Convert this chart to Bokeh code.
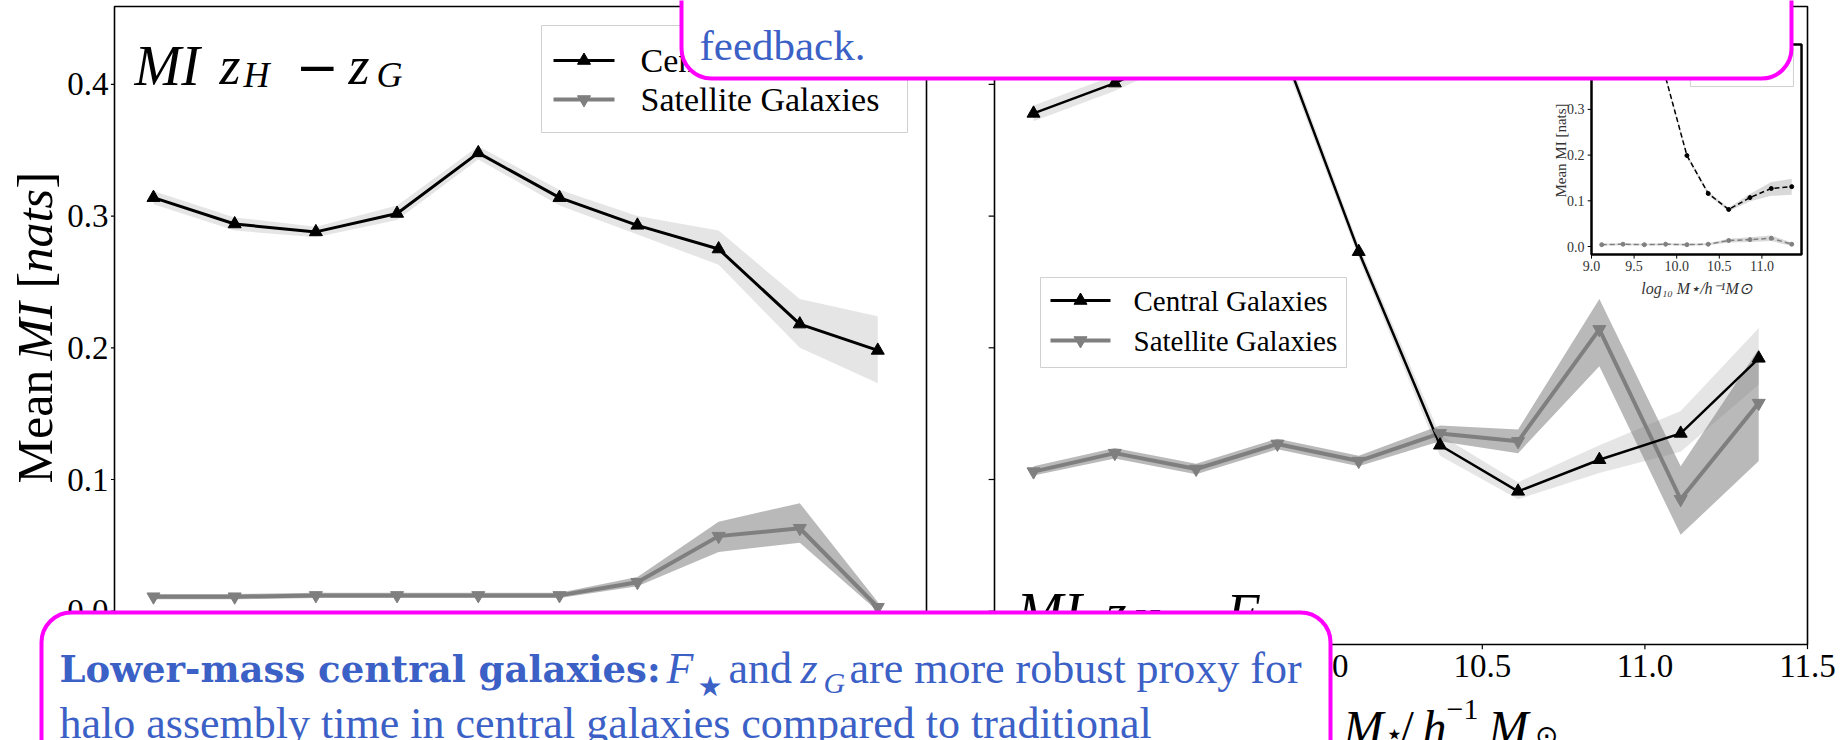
import math
from bokeh.plotting import figure
from bokeh.models import Range1d, BoxAnnotation, Label
from bokeh.core.properties import value
from bokeh.embed import file_html
from bokeh.resources import INLINE

# ---------------- data ----------------
mass_bins = [9.12, 9.37, 9.62, 9.87, 10.12, 10.37, 10.61, 10.86, 11.11, 11.35]

# left panel : MI z_H - z_G
zg_central = [0.314, 0.294, 0.288, 0.302, 0.348, 0.314, 0.293, 0.275, 0.218, 0.198]
zg_central_lo = [0.309, 0.289, 0.284, 0.297, 0.343, 0.308, 0.286, 0.263, 0.200, 0.173]
zg_central_hi = [0.319, 0.299, 0.292, 0.308, 0.353, 0.320, 0.300, 0.289, 0.237, 0.224]
zg_satellite = [0.011, 0.011, 0.012, 0.012, 0.012, 0.012, 0.022, 0.057, 0.063, 0.003]
zg_satellite_lo = [0.009, 0.009, 0.010, 0.010, 0.010, 0.010, 0.019, 0.045, 0.052, 0.000]
zg_satellite_hi = [0.013, 0.013, 0.014, 0.014, 0.014, 0.014, 0.026, 0.068, 0.082, 0.007]

# right panel : MI z_H - F*
fs_central = [0.378, 0.401, 0.430, 0.438, 0.273, 0.126, 0.091, 0.115, 0.135, 0.192]
fs_central_lo = [0.372, 0.395, 0.424, 0.432, 0.268, 0.118, 0.085, 0.105, 0.121, 0.172]
fs_central_hi = [0.384, 0.407, 0.436, 0.444, 0.278, 0.134, 0.098, 0.126, 0.152, 0.215]
fs_satellite = [0.106, 0.120, 0.108, 0.127, 0.114, 0.135, 0.129, 0.214, 0.085, 0.158]
fs_satellite_lo = [0.103, 0.116, 0.104, 0.123, 0.110, 0.129, 0.120, 0.186, 0.058, 0.114]
fs_satellite_hi = [0.110, 0.124, 0.112, 0.131, 0.118, 0.141, 0.138, 0.237, 0.110, 0.199]

# inset
inset_central = [0.470, 0.470, 0.450, 0.370, 0.199, 0.116, 0.081, 0.107, 0.127, 0.131]
inset_central_lo = [0.465, 0.465, 0.445, 0.365, 0.195, 0.112, 0.077, 0.099, 0.111, 0.113]
inset_central_hi = [0.475, 0.475, 0.455, 0.375, 0.203, 0.120, 0.085, 0.115, 0.141, 0.148]
inset_satellite = [0.004, 0.005, 0.004, 0.005, 0.004, 0.005, 0.013, 0.015, 0.018, 0.005]
inset_satellite_lo = [0.002, 0.003, 0.002, 0.003, 0.002, 0.003, 0.009, 0.010, 0.012, 0.001]
inset_satellite_hi = [0.006, 0.007, 0.006, 0.007, 0.006, 0.007, 0.017, 0.020, 0.024, 0.009]

series_labels = ["Central Galaxies", "Satellite Galaxies"]

# axes
panel_xlim = (9.0, 11.5)
panel_ylim = (-0.0253, 0.4591)
y_ticks = [0.0, 0.1, 0.2, 0.3, 0.4]
y_tick_labels = ["0.0", "0.1", "0.2", "0.3", "0.4"]
x_ticks = [9.0, 9.5, 10.0, 10.5, 11.0, 11.5]
x_tick_labels = ["9.0", "9.5", "10.0", "10.5", "11.0", "11.5"]
inset_xlim = (9.0, 11.465)
inset_ylim = (-0.0175, 0.442)
inset_x_ticks = [9.0, 9.5, 10.0, 10.5, 11.0]
inset_x_labels = ["9.0", "9.5", "10.0", "10.5", "11.0"]
inset_y_ticks = [0.0, 0.1, 0.2, 0.3]
inset_y_labels = ["0.0", "0.1", "0.2", "0.3"]
inset_legend_box = (10.16, 11.37, 0.350, 0.433)

# ---------------- layout (image pixels) ----------------
W, H = 1845, 740


def xrange_from(v0, p0, ppu):
    return Range1d(start=v0 + (0 - p0) / ppu, end=v0 + (W - p0) / ppu)


def yrange_from(v0, p0, ppu):
    return Range1d(start=v0 + (p0 - H) / ppu, end=v0 + p0 / ppu)


SERIF = "Liberation Serif"
BLUE = "#3b60c6"
MAGENTA = "#ff00ff"
GREY = "#7f7f7f"

p = figure(width=W, height=H, output_backend="svg", toolbar_location=None,
           x_range=xrange_from(9.0, 114, 324.8), y_range=yrange_from(0.0, 610.7, 1317),
           x_axis_location=None, y_axis_location=None, title=None, min_border=0)
p.extra_x_ranges = {"r": xrange_from(9.0, 994, 325.2),
                    "ix": xrange_from(9.0, 1591, 85.2),
                    "px": Range1d(start=0, end=W)}
p.extra_y_ranges = {"iy": yrange_from(0.0, 246, 457),
                    "py": Range1d(start=H, end=0)}
p.grid.visible = False
p.outline_line_color = None
p.background_fill_color = "white"
p.border_fill_color = "white"

R = dict(x_range_name="r")
PX = dict(x_range_name="px", y_range_name="py")

# ---------------- bands ----------------
p.varea(x=mass_bins, y1=zg_central_lo, y2=zg_central_hi, fill_color="black", fill_alpha=0.1)
p.varea(x=mass_bins, y1=zg_satellite_lo, y2=zg_satellite_hi, fill_color="gray", fill_alpha=0.55)
p.varea(x=mass_bins, y1=fs_central_lo, y2=fs_central_hi, fill_color="black", fill_alpha=0.1, **R)
p.varea(x=mass_bins, y1=fs_satellite_lo, y2=fs_satellite_hi, fill_color="gray", fill_alpha=0.55, **R)

# ---------------- lines & markers ----------------
p.line(mass_bins, zg_central, line_color="black", line_width=3)
p.line(mass_bins, zg_satellite, line_color=GREY, line_width=4)
p.scatter(mass_bins, zg_central, marker="triangle", size=13, color="black")
p.scatter(mass_bins, zg_satellite, marker="inverted_triangle", size=13, color=GREY)

p.line(mass_bins, fs_satellite, line_color=GREY, line_width=4, **R)
p.line(mass_bins, fs_central, line_color="black", line_width=2.5, **R)
p.scatter(mass_bins, fs_satellite, marker="inverted_triangle", size=13, color=GREY, **R)
p.scatter(mass_bins, fs_central, marker="triangle", size=13, color="black", **R)

# ---------------- panel frames, ticks, tick labels ----------------
for extra in ({}, R):
    p.quad(left=[panel_xlim[0]], right=[panel_xlim[1]], bottom=[panel_ylim[0]], top=[panel_ylim[1]],
           fill_color=None, line_color="black", line_width=1.6, **extra)
    p.segment(x0=x_ticks, x1=x_ticks, y0=[panel_ylim[0]] * len(x_ticks),
              y1=[panel_ylim[0] - 0.0035] * len(x_ticks), line_color="black", line_width=1.2, **extra)
p.segment(x0=[panel_xlim[0] - 0.011] * 5, x1=[panel_xlim[0]] * 5, y0=y_ticks, y1=y_ticks,
          line_color="black", line_width=1.2)
p.segment(x0=[panel_xlim[0] - 0.018] * 5, x1=[panel_xlim[0]] * 5, y0=y_ticks, y1=y_ticks,
          line_color="black", line_width=1.2, **R)
p.text(x=[panel_xlim[0]] * 5, y=y_ticks, text=y_tick_labels, x_offset=-6, text_align="right",
       text_baseline="middle", text_font=value(SERIF), text_font_size="33px", text_color="black")
vis = [i for i, t in enumerate(x_ticks) if t >= 10.0]
p.text(x=[x_ticks[i] for i in vis], y=[panel_ylim[0]] * len(vis),
       text=[x_tick_labels[i] for i in vis], y_offset=10, text_align="center",
       text_baseline="top", text_font=value(SERIF), text_font_size="33px",
       text_color="black", **R)

# ---------------- inset ----------------
IR = dict(x_range_name="ix", y_range_name="iy")
p.quad(left=[inset_xlim[0]], right=[inset_xlim[1]], bottom=[inset_ylim[0]], top=[inset_ylim[1]],
       fill_color="white", line_color="black", line_width=2.5, **IR)
p.quad(left=[inset_legend_box[0]], right=[inset_legend_box[1]], bottom=[inset_legend_box[2]],
       top=[inset_legend_box[3]], fill_color="white", line_color="#d0d0d0", line_width=1, **IR)
p.varea(x=mass_bins, y1=inset_central_lo, y2=inset_central_hi, fill_color="gray", fill_alpha=0.3, **IR)
p.varea(x=mass_bins, y1=inset_satellite_lo, y2=inset_satellite_hi, fill_color="gray", fill_alpha=0.3, **IR)
p.line(mass_bins, inset_central, line_color="black", line_width=1.5, line_dash="5 3", **IR)
p.line(mass_bins, inset_satellite, line_color="#808080", line_width=1.5, line_dash="5 3", **IR)
p.scatter(mass_bins, inset_central, size=4, color="black", **IR)
p.scatter(mass_bins, inset_satellite, size=4, color="#808080", **IR)
p.segment(x0=inset_x_ticks, x1=inset_x_ticks, y0=[inset_ylim[0]] * 5, y1=[inset_ylim[0] - 0.009] * 5,
          line_color="black", line_width=1, **IR)
p.segment(x0=[inset_xlim[0] - 0.045] * 4, x1=[inset_xlim[0]] * 4, y0=inset_y_ticks, y1=inset_y_ticks,
          line_color="black", line_width=1, **IR)
p.text(x=inset_x_ticks, y=[inset_ylim[0]] * 5, text=inset_x_labels, text_align="center",
       text_baseline="top", y_offset=7, text_font=value(SERIF), text_font_size="14px",
       text_color="#333333", **IR)
p.text(x=[inset_xlim[0]] * 4, y=inset_y_ticks, text=inset_y_labels, text_align="right",
       text_baseline="middle", x_offset=-7, text_font=value(SERIF), text_font_size="14px",
       text_color="#333333", **IR)


# ---------------- legends (drawn as glyphs so the call-out boxes can cover them) ----------------
def legend(box, rows, line_x, label_x, size):
    l, t, r, b = box
    p.quad(left=[l], right=[r], top=[t], bottom=[b], fill_color="white", fill_alpha=0.85,
           line_color="#d0d0d0", line_width=1, **PX)
    for ypos, colour, lw, marker, text in zip(rows, ["black", GREY], [3, 4],
                                              ["triangle", "inverted_triangle"], series_labels):
        p.segment(x0=[line_x[0]], x1=[line_x[1]], y0=[ypos], y1=[ypos], line_color=colour,
                  line_width=lw, **PX)
        p.scatter(x=[(line_x[0] + line_x[1]) / 2], y=[ypos], marker=marker, size=13,
                  color=colour, **PX)
        p.text(x=[label_x], y=[ypos], text=[text], text_baseline="middle", text_align="left",
               text_font=value(SERIF), text_font_size=f"{size}px", text_color="black", **PX)


legend((541, 25, 907, 132), [60, 99], (553, 614), 640, 34)
legend((1040, 277, 1346, 367), [300, 340], (1050, 1110), 1133, 29)


# ---------------- text helper (positions in image pixels) ----------------
def lab(text, x, y, size, style="normal", font=SERIF, color="black", angle=0.0,
        align="left", baseline="alphabetic", level="annotation"):
    p.add_layout(Label(x=x, y=y, text=text, text_font=font, text_font_size=f"{size}px",
                       text_font_style=style, text_color=color, angle=angle, text_align=align,
                       text_baseline=baseline, level=level, **PX))


# inset axis titles
lab("Mean MI [nats]", 1560, 150, 15, angle=math.pi / 2, align="center", baseline="middle",
    color="#333333")
lab("log\u2081\u2080 M\u22c6/h\u207b\u00b9M\u2299", 1696, 288, 16, style="italic", align="center",
    baseline="middle", color="#333333")

# panel titles
lab("MI", 134, 65, 56, "italic")
lab("z", 219, 65, 54, "italic")
lab("H", 243, 74, 36, "italic")
lab("\u2212", 295, 65, 52, font="DejaVu Sans")
lab("z", 348, 65, 54, "italic")
lab("G", 376, 74, 36, "italic")

lab("MI", 1016, 612, 56, "italic")
lab("z", 1105, 612, 54, "italic")
lab("H", 1132, 621, 36, "italic")
lab("\u2212", 1179, 612, 52, font="DejaVu Sans")
lab("F", 1226, 612, 54, "italic")
lab("\u22c6", 1268, 622, 36)

# y axis title
YA = math.pi / 2
YX = 34
lab("Mean", YX, 483, 50, angle=YA)
lab("MI", YX, 360, 50, "italic", angle=YA)
lab("[", YX, 288, 50, angle=YA)
lab("nats", YX, 272, 50, "italic", angle=YA)
lab("]", YX, 188, 50, angle=YA)

# x axis title
lab("M", 1343, 727, 48, "italic")
lab("\u22c6", 1384, 733, 30)
lab("/", 1400, 727, 48)
lab("h", 1422, 727, 48, "italic")
lab("\u22121", 1446, 709, 30)
lab("M", 1488, 727, 48, "italic")
lab("\u2299", 1534, 735, 28)

# ---------------- call-out boxes ----------------
for (l, r, t, b) in [(681, 1791, -60, 78), (41, 1330, 612, 800)]:
    p.add_layout(BoxAnnotation(left=l, right=r, top=t, bottom=b, fill_color="white",
                               fill_alpha=1.0, line_color=MAGENTA, line_width=4, line_alpha=1.0,
                               border_radius=30, level="overlay", **PX))

lab("feedback.", 699, 45, 43, color=BLUE, level="overlay")
lab("Lower-mass central galaxies:", 59, 668, 37, "bold", font="DejaVu Serif", color=BLUE,
    level="overlay")
lab("F", 666, 668, 44, "italic", color=BLUE, level="overlay")
lab("\u2605", 697, 686, 28, font="DejaVu Sans", color=BLUE, level="overlay")
lab("and", 728, 668, 44, color=BLUE, level="overlay")
lab("z", 800, 668, 44, "italic", color=BLUE, level="overlay")
lab("G", 823, 682, 30, "italic", color=BLUE, level="overlay")
lab("are  more robust proxy for", 849, 668, 44, color=BLUE, level="overlay")
lab("halo assembly time in central galaxies compared to traditional", 59, 723, 44,
    color=BLUE, level="overlay")

open("out.html", "w").write(file_html(p, INLINE))
